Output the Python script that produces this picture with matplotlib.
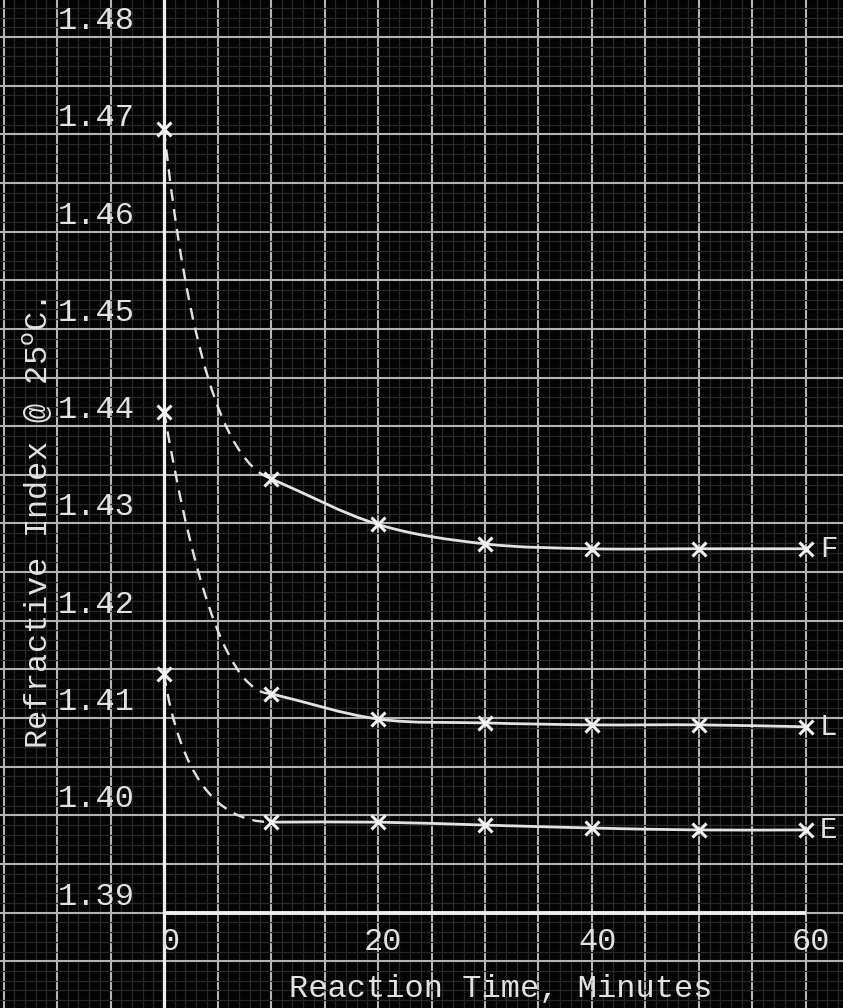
import numpy as np
import matplotlib
matplotlib.use('Agg')
import matplotlib.pyplot as plt
from matplotlib.path import Path
from matplotlib.patches import PathPatch
from matplotlib.ticker import MultipleLocator

# Data
time = [0, 10, 20, 30, 40, 50, 60]
F = [1.4705, 1.4346, 1.4299, 1.4279, 1.4274, 1.4274, 1.4274]
L = [1.4415, 1.4125, 1.4099, 1.4095, 1.4093, 1.4093, 1.4091]
E = [1.4145, 1.3993, 1.3993, 1.3990, 1.3987, 1.3985, 1.3985]
curve_names = ['F', 'L', 'E']
ytick_vals = [1.48, 1.47, 1.46, 1.45, 1.44, 1.43, 1.42, 1.41, 1.40, 1.39]
xtick_vals = [0, 20, 40, 60]

ink = '#e2e2e2'
font = 'Liberation Mono'


def smooth_verts(xs, ys):
    # catmull-rom style cubic segments through the measured points
    verts = [(xs[0], ys[0])]
    codes = [Path.MOVETO]
    n = len(xs)
    for i in range(n - 1):
        a = i - 1 if i > 0 else i
        b = i + 2 if i + 2 < n else i + 1
        t0 = ((xs[i + 1] - xs[a]) / (i + 1 - a), (ys[i + 1] - ys[a]) / (i + 1 - a))
        t1 = ((xs[b] - xs[i]) / (b - i), (ys[b] - ys[i]) / (b - i))
        c1 = (xs[i] + t0[0] / 3, ys[i] + t0[1] / 3)
        c2 = (xs[i + 1] - t1[0] / 3, ys[i + 1] - t1[1] / 3)
        verts += [c1, c2, (xs[i + 1], ys[i + 1])]
        codes += [Path.CURVE4] * 3
    return Path(verts, codes)


def dashed_start(x0, y0, x1, y1, fu, fv):
    # quadratic bend from the 0 min point down to the 10 min point
    ctrl = (x0 + fu * (x1 - x0), y0 + fv * (y1 - y0))
    return Path([(x0, y0), ctrl, (x1, y1)], [Path.MOVETO, Path.CURVE3, Path.CURVE3])


fig = plt.figure(figsize=(8.43, 10.08), dpi=100, facecolor='black')
ax = fig.add_axes([0, 0, 1, 1])
ax.set_facecolor('#040404')
ax.set_xlim(-15.33, 63.46)
ax.set_ylim(1.3802, 1.4838)

# graph paper
ax.xaxis.set_major_locator(MultipleLocator(5))
ax.xaxis.set_minor_locator(MultipleLocator(1))
ax.yaxis.set_major_locator(MultipleLocator(0.005))
ax.yaxis.set_minor_locator(MultipleLocator(0.001))
ax.grid(which='major', color='#b4b4b4', lw=1.5)
ax.grid(which='minor', color='#282828', lw=0.9)
ax.tick_params(which='both', length=0, labelbottom=False, labelleft=False)
for s in ax.spines.values():
    s.set_visible(False)
ax.set_axisbelow(True)

# axes drawn on the paper
ax.axvline(0, color='#eeeeee', lw=2.3)
ax.hlines(1.39, 0, 60, color='#eeeeee', lw=2.8)

ctrl = {'F': (0.33, 0.93), 'L': (0.45, 1.0), 'E': (0.22, 1.0)}
for name, ys in zip(curve_names, [F, L, E]):
    solid = smooth_verts(time[1:], ys[1:])
    ax.add_patch(PathPatch(solid, fill=False, ec=ink, lw=2.0))
    fu, fv = ctrl[name]
    dash = dashed_start(time[0], ys[0], time[1], ys[1], fu, fv)
    ax.add_patch(PathPatch(dash, fill=False, ec=ink, lw=1.7, ls=(0, (5, 3.5))))
    ax.plot(time, ys, ls='none', marker='x', ms=10, mew=2.2, color='#f2f2f2')
    ax.text(time[-1] + 1.3, ys[-1], name, ha='left', va='center',
            fontsize=21, family=font, color=ink)

for v in ytick_vals:
    ax.text(-9.9, v + 0.0001, '%.2f' % v, ha='left', va='bottom',
            fontsize=23, family=font, color=ink)
for v in xtick_vals:
    ax.text(v + 0.5, 1.3885, str(v), ha='center', va='top',
            fontsize=23, family=font, color=ink)

ax.text(-11.8, 1.4300, 'Refractive Index @ 25$^{\\rm o}$C.', rotation=90,
        ha='center', va='center', fontsize=23, family=font, color=ink)
ax.text(31.5, 1.3822, 'Reaction Time, Minutes', ha='center', va='center',
        fontsize=23, family=font, color=ink)

fig.savefig('out.png', dpi=100, facecolor='black')
